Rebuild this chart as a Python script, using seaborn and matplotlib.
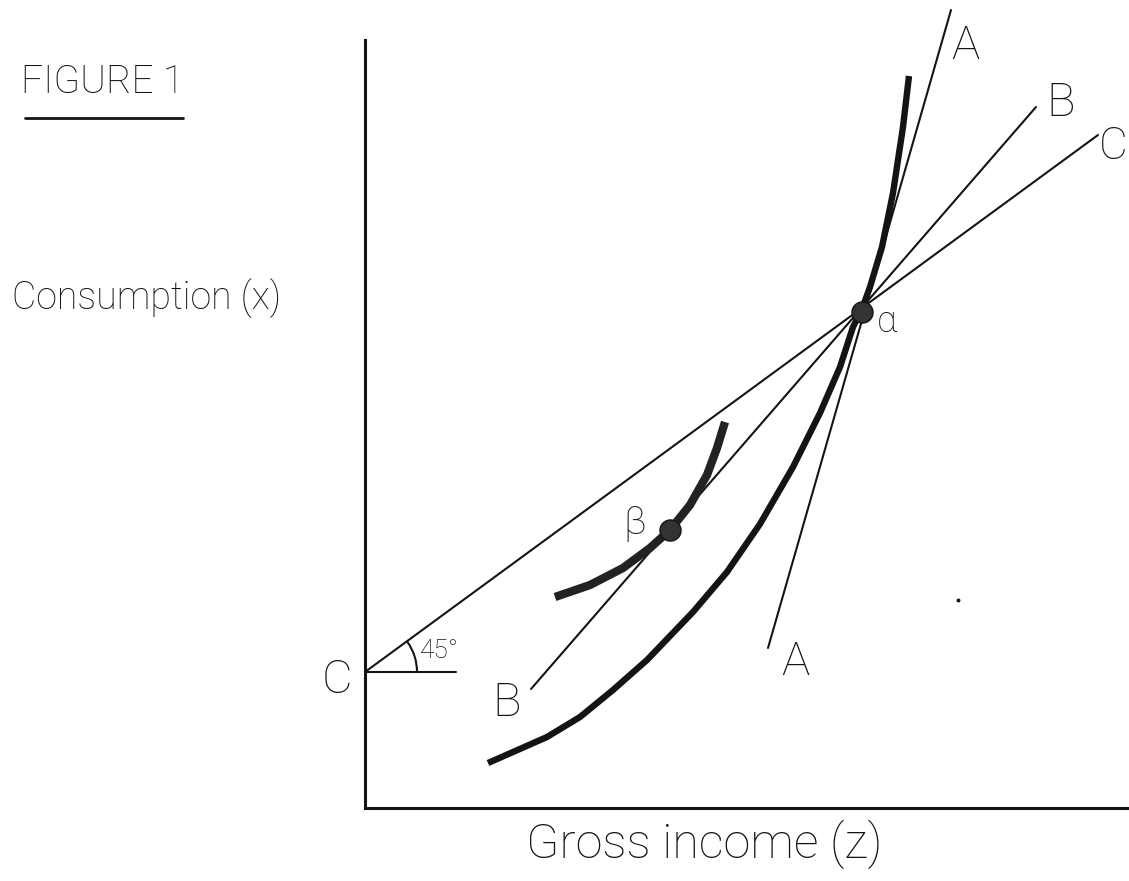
import numpy as np
import pandas as pd
import matplotlib
matplotlib.use("Agg")
import matplotlib.pyplot as plt
from matplotlib.patches import Arc
import seaborn as sns

# all values in chart units: gross income (z) across, consumption (x) up,
# origin at the corner of the axes
z_max, x_max = 7.64, 7.68

point_C = (0.00, 1.36)
point_alpha = (4.97, 4.96)
point_beta = (3.05, 2.78)
speck = (5.93, 2.08)

# straight lines (end points)
line_A_z = [4.03, 5.86]
line_A_x = [1.60, 7.98]
line_B_z = [1.66, 6.71]
line_B_x = [1.19, 7.01]
line_C_z = [0.00, 7.33]
line_C_x = [1.36, 6.73]
flat_z = [0.00, 0.91]
flat_x = [1.36, 1.36]

# long curve through alpha
curve_z = [1.23, 1.48, 1.82, 2.15, 2.48, 2.82, 3.28, 3.62, 3.95, 4.28, 4.55,
           4.75, 4.88, 4.97, 5.05, 5.17, 5.28, 5.38, 5.44]
curve_x = [0.45, 0.56, 0.71, 0.91, 1.18, 1.48, 1.96, 2.36, 2.84, 3.41, 3.95,
           4.41, 4.81, 4.99, 5.21, 5.61, 6.15, 6.81, 7.32]

# short curve through beta
small_z = [1.90, 2.25, 2.58, 2.85, 3.05, 3.25, 3.42, 3.52, 3.60]
small_x = [2.11, 2.23, 2.40, 2.60, 2.78, 3.03, 3.33, 3.60, 3.86]

# line labels: (text, z, x)
line_labels = [
    ("A", 6.00, 7.62), ("A", 4.30, 1.46),
    ("B", 6.96, 7.05), ("B", 1.42, 1.05),
    ("C", -0.28, 1.28),
]
title_text = "FIGURE 1"
title_pos = (-2.62, 7.26)
title_rule_z = [-3.40, -1.82]
title_rule_x = [6.90, 6.90]
ylabel_text = "Consumption (x)"
ylabel_pos = (-2.18, 5.10)
xlabel_text = "Gross income (z)"
xlabel_pos = (3.39, -0.36)

ink = "#141414"
sns.set_theme(style="white")
plt.rcParams["font.family"] = ["Roboto", "DejaVu Sans"]

fig = plt.figure(figsize=(11.29, 8.81), dpi=100)
ax = fig.add_axes([365 / 1129, 73 / 881, 764 / 1129, 768 / 881])
ax.set_xlim(0, z_max)
ax.set_ylim(0, x_max)
ax.set_xticks([])
ax.set_yticks([])
for side in ["top", "right"]:
    ax.spines[side].set_visible(False)
for side in ["left", "bottom"]:
    ax.spines[side].set_color(ink)
    ax.spines[side].set_linewidth(2.2)

thin = dict(color=ink, linewidth=1.5, sort=False, estimator=None, clip_on=False, ax=ax)
sns.lineplot(x=line_A_z, y=line_A_x, **thin)
sns.lineplot(x=line_B_z, y=line_B_x, **thin)
sns.lineplot(x=line_C_z, y=line_C_x, **thin)
sns.lineplot(x=flat_z, y=flat_x, **thin)

sns.lineplot(x=curve_z, y=curve_x, color=ink, linewidth=4.6, sort=False,
             estimator=None, clip_on=False, ax=ax, solid_capstyle="butt",
             solid_joinstyle="round")
sns.lineplot(x=small_z, y=small_x, color="#222222", linewidth=6.0, sort=False,
             estimator=None, ax=ax, solid_capstyle="butt", solid_joinstyle="round")

dots = pd.DataFrame({"z": [point_alpha[0], point_beta[0]],
                     "x": [point_alpha[1], point_beta[1]]})
sns.scatterplot(data=dots, x="z", y="x", s=230, color="#333333",
                edgecolor=ink, linewidth=1, zorder=5, ax=ax)
sns.scatterplot(x=[speck[0]], y=[speck[1]], s=8, color=ink, linewidth=0, ax=ax)

# 45 degree mark
ax.add_patch(Arc(point_C, 1.04, 1.04, theta1=0, theta2=36, color=ink, linewidth=1.5))
ax.text(0.55, 1.57, "45°", fontsize=19, color=ink, fontweight="light",
        ha="left", va="center")

# labels
for txt, lz, lx in line_labels:
    ax.text(lz, lx, txt, fontsize=34, color=ink, fontweight="light",
            ha="center", va="center", clip_on=False)
ax.text(7.63, 6.61, "C", fontsize=32, color=ink, fontweight="light",
        ha="right", va="center", clip_on=False)
ax.text(point_alpha[0] + 0.25, point_alpha[1] - 0.10, "α", fontsize=26,
        color=ink, fontweight="light", ha="center", va="center")
ax.text(point_beta[0] - 0.35, point_beta[1] + 0.07, "β", fontsize=28,
        color=ink, fontweight="light", ha="center", va="center")

ax.text(*title_pos, title_text, fontsize=28, color=ink, fontweight="light",
        ha="center", va="center", clip_on=False)
sns.lineplot(x=title_rule_z, y=title_rule_x, color=ink, linewidth=2.0,
             sort=False, estimator=None, clip_on=False, ax=ax)
ax.text(*ylabel_pos, ylabel_text, fontsize=27, color=ink, fontweight="light",
        ha="center", va="center", clip_on=False)
ax.text(*xlabel_pos, xlabel_text, fontsize=35, color=ink, fontweight="light",
        ha="center", va="center", clip_on=False)

fig.savefig("out.png", dpi=100, facecolor="white")
